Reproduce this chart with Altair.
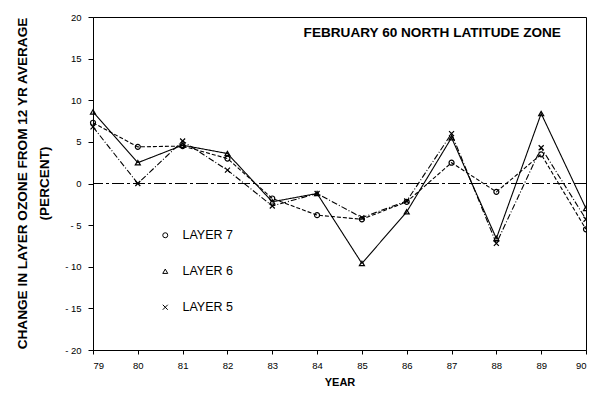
import altair as alt
import pandas as pd

years = [79, 80, 81, 82, 83, 84, 85, 86, 87, 88, 89, 90]
layer7 = [7.3, 4.4, 4.5, 3.0, -1.8, -3.8, -4.3, -2.2, 2.5, -1.0, 3.5, -5.5]
layer6 = [8.6, 2.5, 4.6, 3.6, -2.2, -1.2, -9.6, -3.4, 5.5, -6.6, 8.4, -3.0]
layer5 = [6.8, 0.0, 5.1, 1.6, -2.7, -1.2, -4.1, -2.1, 6.0, -7.2, 4.3, -4.3]
layer_names = ["LAYER 7", "LAYER 6", "LAYER 5"]
y_ticks = [20, 15, 10, 5, 0, -5, -10, -15, -20]
title_text = "FEBRUARY 60 NORTH LATITUDE ZONE"

rows = []
for name, vals in zip(layer_names, [layer7, layer6, layer5]):
    for yr, v in zip(years, vals):
        rows.append({"year": yr, "value": v, "layer": name, "style": name + " line"})
df = pd.DataFrame(rows)

FONT = "Liberation Sans"

x_enc = alt.X("year:Q", scale=alt.Scale(domain=[79, 90], nice=False, zero=False),
              axis=alt.Axis(values=years, format="d", title="YEAR", grid=False,
                            labelFontSize=9.5, titleFontSize=11, titleFontWeight="bold",
                            titlePadding=7, tickSize=4, labelPadding=6))
y_enc = alt.Y("value:Q", scale=alt.Scale(domain=[-20, 20], nice=False),
              axis=alt.Axis(values=y_ticks, grid=False,
                            labelExpr="datum.value < 0 ? '- ' + abs(datum.value) : datum.label",
                            title=["CHANGE IN LAYER OZONE FROM 12 YR AVERAGE", "(PERCENT)"],
                            titleFontSize=13.6, titleFontWeight="bold", titleLineHeight=22,
                            titleX=-71, titleY=166, titleAngle=-90, titleAlign="center",
                            titleBaseline="middle",
                            labelFontSize=9.5, tickSize=5, labelPadding=7))

shape_scale = alt.Scale(domain=layer_names,
                        range=["circle", "triangle-up", "M-1,-1L1,1M-1,1L1,-1"])
dash_names = [n + " line" for n in layer_names]
dash_scale = alt.Scale(domain=dash_names, range=[[4, 2], [1, 0], [6, 2, 1, 2]])

zero = alt.Chart(pd.DataFrame({"z": [0]})).mark_rule(
    color="black", strokeWidth=1, strokeDash=[12, 3, 3, 3]
).encode(y=alt.Y("z:Q", scale=alt.Scale(domain=[-20, 20], nice=False)))

lines = alt.Chart(df).mark_line(color="black", strokeWidth=1.1).encode(
    x=x_enc, y=y_enc,
    strokeDash=alt.StrokeDash("style:N", scale=dash_scale, legend=None),
)

points = alt.Chart(df).mark_point(color="black", filled=False, strokeWidth=1.2, size=25, opacity=1).encode(
    x=x_enc, y=y_enc,
    shape=alt.Shape("layer:N", scale=shape_scale,
                    legend=alt.Legend(title=None, orient="none", legendX=66, legendY=212,
                                      direction="vertical", labelFontSize=12.5,
                                      labelFont=FONT, labelColor="black",
                                      symbolStrokeColor="black", symbolFillColor="white",
                                      symbolStrokeWidth=1, symbolSize=25,
                                      labelOffset=11, rowPadding=23)),
)

chart = alt.layer(zero, lines, points).resolve_legend(
    shape="independent", strokeDash="independent"
).properties(
    width=493, height=333,
    autosize=alt.AutoSizeParams(type="none"),
    padding={"left": 85, "top": 9, "right": 1, "bottom": 37},
    title=alt.TitleParams(title_text, anchor="end", orient="top", offset=-28, dx=-30,
                          fontSize=13.6, fontWeight="bold", font=FONT, color="black"),
).configure_view(stroke="black", strokeWidth=1).configure_axis(
    domainColor="black", tickColor="black", labelColor="black", titleColor="black",
    labelFont=FONT, titleFont=FONT,
).configure_legend(labelFont=FONT)

chart.save("out.html", embed_options={"renderer": "svg", "actions": False})
